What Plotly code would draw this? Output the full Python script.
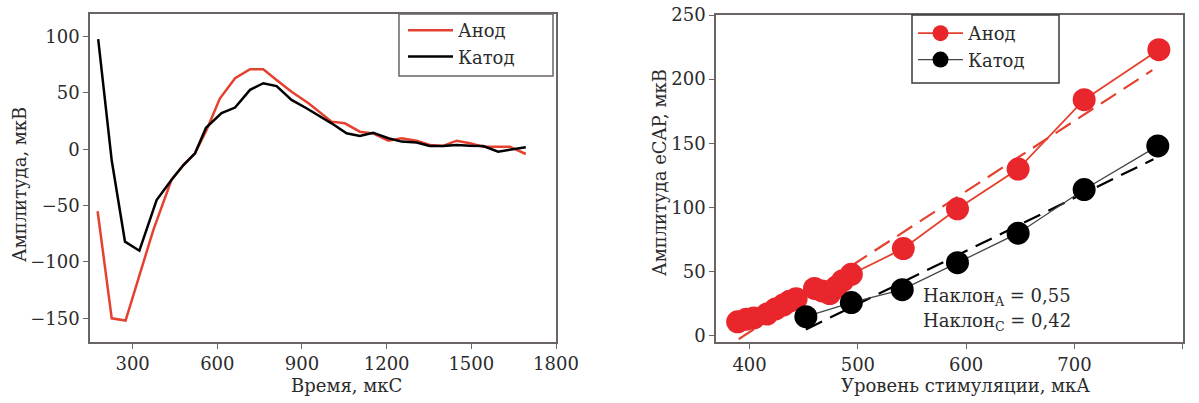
import plotly.graph_objects as go

# ---------- data: left panel (waveforms) ----------
t_anode = [176, 226, 275, 373, 438, 480, 521, 562, 609, 663, 716, 763, 810, 863, 922, 1005,
           1052, 1105, 1152, 1206, 1253, 1306, 1353, 1400, 1448, 1495, 1542, 1590, 1636, 1693]
v_anode = [-55, -150, -152, -72, -27, -14, -3.6, 17, 45, 63, 71, 71, 61.5, 51, 41, 24.5,
           23, 15.6, 14, 7.6, 9.8, 7.6, 3.8, 2.9, 7.6, 5.3, 2.3, 2.3, 2.3, -4.2]

t_cathode = [178, 226, 273, 324, 385, 438, 480, 521, 560, 615, 663, 716, 763, 810, 863, 916,
             1005, 1058, 1105, 1152, 1206, 1253, 1306, 1353, 1400, 1448, 1495, 1542, 1595, 1648, 1693]
v_cathode = [97.7, -10, -82, -90, -45, -27, -14, -3.6, 19, 32, 37, 52.7, 58.6, 56, 43.8, 36.4,
             23, 14.2, 11.8, 14.7, 9.8, 6.8, 5.9, 2.9, 2.9, 3.8, 3.2, 2.9, -2.1, 0, 1.8]

# ---------- data: right panel (eCAP vs stimulation) ----------
i_anode = [389, 397, 404, 416, 424, 431, 437, 443, 460, 467, 474, 480, 486, 494, 542, 592, 648, 709, 778]
a_anode = [11, 13, 14, 17, 21, 24, 27, 29, 37, 35, 33, 38, 43, 48, 68, 99, 130, 184, 223]

i_cathode = [452, 494, 541, 592, 648, 709, 777]
a_cathode = [15, 26, 36, 57, 80, 114, 148]

fit_x_anode = [390, 772]
fit_y_anode = [-2.5, 207]
fit_x_cathode = [452, 773]
fit_y_cathode = [5, 137.6]

left_xticks = [300, 600, 900, 1200, 1500, 1800]
left_yticks = [-150, -100, -50, 0, 50, 100]
right_xticks = [400, 500, 600, 700, 800]
right_yticks = [0, 50, 100, 150, 200, 250]

RED = "#e5412f"
RED_M = "#e8262b"
FONT = "DejaVu Serif"
TXT = "#2b2b2b"
FRAME = "#6b6464"
W, H = 1199, 403

fig = go.Figure()

# left panel
fig.add_trace(go.Scatter(x=t_anode, y=v_anode, mode="lines", name="Анод",
                         line=dict(color=RED, width=2.5), xaxis="x", yaxis="y", legend="legend"))
fig.add_trace(go.Scatter(x=t_cathode, y=v_cathode, mode="lines", name="Катод",
                         line=dict(color="#000000", width=2.5), xaxis="x", yaxis="y", legend="legend"))

# right panel: fits
fig.add_trace(go.Scatter(x=fit_x_anode, y=fit_y_anode, mode="lines", showlegend=False,
                         line=dict(color=RED, width=2.2, dash="18px,9px"), xaxis="x2", yaxis="y2"))
fig.add_trace(go.Scatter(x=fit_x_cathode, y=fit_y_cathode, mode="lines", showlegend=False,
                         line=dict(color="#000000", width=2.2, dash="18px,9px"), xaxis="x2", yaxis="y2"))
# right panel: data
fig.add_trace(go.Scatter(x=i_anode, y=a_anode, mode="lines+markers", name="Анод",
                         line=dict(color=RED, width=1.8),
                         marker=dict(color=RED_M, size=23),
                         xaxis="x2", yaxis="y2", legend="legend2"))
fig.add_trace(go.Scatter(x=i_cathode, y=a_cathode, mode="lines+markers", name="Катод",
                         line=dict(color="#444444", width=1.3),
                         marker=dict(color="#000000", size=23),
                         xaxis="x2", yaxis="y2", legend="legend2"))

axis_common = dict(showline=True, linecolor=FRAME, linewidth=1.5, mirror=True,
                   ticks="outside", ticklen=5, tickcolor=FRAME, tickwidth=1.2,
                   showgrid=False, zeroline=False, automargin=False,
                   tickfont=dict(family=FONT, size=18, color=TXT))

ydom = [1 - 342 / H, 1 - 14 / H]
fig.update_layout(
    width=W, height=H,
    margin=dict(l=0, r=0, t=0, b=0, autoexpand=False),
    paper_bgcolor="white", plot_bgcolor="white",
    font=dict(family=FONT, size=18, color=TXT),
    xaxis=dict(domain=[90 / W, 556 / W], range=[149, 1800], tickvals=left_xticks, **axis_common),
    yaxis=dict(domain=ydom, range=[-171, 120], tickvals=left_yticks, anchor="x", **axis_common),
    xaxis2=dict(domain=[716 / W, 1182.7 / W], range=[369, 800], tickvals=right_xticks,
                anchor="y2", **axis_common),
    yaxis2=dict(domain=[1 - 342.3 / H, 1 - 15 / H], range=[-5, 250], tickvals=right_yticks,
                anchor="x2", **axis_common),
    legend=dict(x=403 / W, y=1 - 12 / H, xanchor="left", yanchor="top",
                bgcolor="rgba(0,0,0,0)", borderwidth=0, itemwidth=45,
                font=dict(family=FONT, size=18, color=TXT), tracegroupgap=0),
    legend2=dict(x=913 / W, y=1 - 15 / H, xanchor="left", yanchor="top",
                 bgcolor="rgba(0,0,0,0)", borderwidth=0, itemwidth=45,
                 font=dict(family=FONT, size=18, color=TXT), tracegroupgap=0),
    shapes=[
        dict(type="rect", xref="paper", yref="paper",
             x0=399 / W, x1=553 / W, y0=1 - 76 / H, y1=1 - 14 / H,
             line=dict(color=FRAME, width=1.5), fillcolor="rgba(0,0,0,0)"),
        dict(type="rect", xref="paper", yref="paper",
             x0=912 / W, x1=1059 / W, y0=1 - 83 / H, y1=1 - 15 / H,
             line=dict(color="#3a3a3a", width=1.5), fillcolor="rgba(0,0,0,0)"),
    ],
    annotations=[
        dict(text="Время, мкС", xref="paper", yref="paper", x=347 / W, y=1 - 385 / H,
             showarrow=False, xanchor="center", yanchor="middle"),
        dict(text="Уровень стимуляции, мкА", xref="paper", yref="paper", x=965 / W, y=1 - 385 / H,
             showarrow=False, xanchor="center", yanchor="middle"),
        dict(text="Амплитуда, мкВ", xref="paper", yref="paper", x=19 / W, y=1 - 185 / H,
             showarrow=False, textangle=-90, xanchor="center", yanchor="middle"),
        dict(text="Амплитуда eCAP, мкВ", xref="paper", yref="paper", x=660 / W, y=1 - 173 / H,
             showarrow=False, textangle=-90, xanchor="center", yanchor="middle"),
        dict(text="Наклон<sub>A</sub> = 0,55", xref="x2", yref="y2", x=558, y=30.5,
             showarrow=False, xanchor="left", yanchor="middle"),
        dict(text="Наклон<sub>C</sub> = 0,42", xref="x2", yref="y2", x=558, y=11,
             showarrow=False, xanchor="left", yanchor="middle"),
    ],
)

fig.write_html("out.html")
